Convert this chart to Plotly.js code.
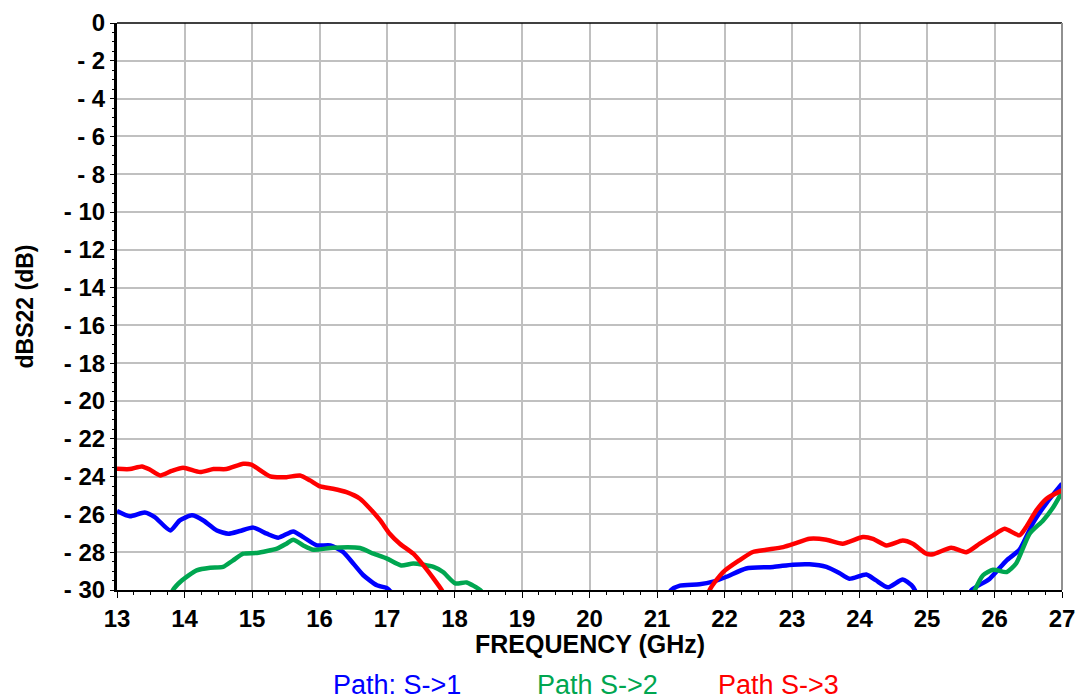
<!DOCTYPE html>
<html><head><meta charset="utf-8">
<script src="https://cdn.plot.ly/plotly-3.0.1.min.js"></script>
<style>html,body{margin:0;padding:0;background:#fff;}#chart{width:1083px;height:700px;}</style>
</head><body><div id="chart"></div>
<script>
// Path S->1 (blue)
const s1Freq = [13.0,13.19,13.41,13.56,13.79,13.93,14.11,14.28,14.48,14.65,14.82,15.02,15.22,15.39,15.61,15.76,15.96,16.16,16.35,16.5,16.65,16.85,17.0,17.04,17.12,
  null,
  21.15,21.21,21.34,21.63,21.83,22.03,22.32,22.72,23.01,23.26,23.51,23.7,23.85,24.1,24.24,24.42,24.64,24.77,24.82,24.86,
  null,
  25.6,25.66,25.93,26.18,26.37,26.57,26.77,27.0];
const s1Vals = [-25.82,-26.1,-25.9,-26.14,-26.85,-26.32,-26.05,-26.32,-26.85,-27.02,-26.88,-26.7,-27.02,-27.23,-26.9,-27.2,-27.64,-27.64,-27.99,-28.6,-29.22,-29.75,-29.9,-30.03,-30.3,
  null,
  -30.3,-30.0,-29.77,-29.7,-29.56,-29.3,-28.86,-28.78,-28.66,-28.64,-28.78,-29.1,-29.4,-29.18,-29.48,-29.86,-29.44,-29.74,-30.0,-30.4,
  null,
  -30.4,-30.0,-29.4,-28.43,-27.87,-26.46,-25.4,-24.38];

// Path S->2 (green)
const s2Freq = [13.78,13.83,13.96,14.18,14.38,14.57,14.72,14.87,15.07,15.37,15.51,15.61,15.76,15.91,16.2,16.6,16.8,17.0,17.21,17.39,17.69,17.83,18.01,18.18,18.38,18.45,
  null,
  25.66,25.71,25.83,25.98,26.18,26.32,26.52,26.72,26.87,27.0];
const s2Vals = [-30.5,-30.0,-29.5,-28.96,-28.82,-28.78,-28.43,-28.08,-28.04,-27.81,-27.55,-27.34,-27.64,-27.87,-27.76,-27.78,-28.08,-28.34,-28.7,-28.6,-28.78,-29.05,-29.65,-29.6,-30.0,-30.3,
  null,
  -30.5,-30.0,-29.22,-28.93,-29.05,-28.6,-27.02,-26.32,-25.62,-24.82];

// Path S->3 (red)
const s3Freq = [13.0,13.19,13.37,13.49,13.64,13.81,13.98,14.23,14.43,14.62,14.87,14.99,15.27,15.51,15.71,15.86,16.01,16.2,16.4,16.6,16.75,16.9,17.04,17.19,17.39,17.54,17.69,17.81,17.9,
  null,
  21.72,21.78,21.98,22.22,22.42,22.62,22.87,23.06,23.26,23.51,23.75,24.05,24.2,24.4,24.64,24.79,24.99,25.09,25.36,25.58,25.78,25.98,26.15,26.37,26.47,26.62,26.77,27.0];
const s3Vals = [-23.59,-23.6,-23.46,-23.64,-23.94,-23.7,-23.53,-23.76,-23.6,-23.6,-23.32,-23.37,-23.99,-24.03,-23.94,-24.2,-24.52,-24.64,-24.82,-25.17,-25.7,-26.32,-27.02,-27.55,-28.08,-28.7,-29.4,-30.0,-30.6,
  null,
  -31.0,-30.0,-29.05,-28.43,-27.99,-27.87,-27.73,-27.52,-27.29,-27.34,-27.55,-27.2,-27.29,-27.64,-27.38,-27.55,-28.08,-28.11,-27.76,-28.0,-27.55,-27.11,-26.76,-27.11,-26.67,-25.79,-25.17,-24.73];

const xTicks = [13,14,15,16,17,18,19,20,21,22,23,24,25,26,27];
const yTicks = [0,-2,-4,-6,-8,-10,-12,-14,-16,-18,-20,-22,-24,-26,-28,-30];
const yTickText = yTicks.map(v => v === 0 ? '0' : '- ' + Math.abs(v));
const legendNames = ['Path: S->1','Path S->2','Path S->3'];
const xTitle = 'FREQUENCY (GHz)';
const yTitle = 'dBS22 (dB)';
const colors = ['#0000ff','#00a650','#ff0000'];

const traces = [
  {x:s1Freq, y:s1Vals, name:legendNames[0], color:colors[0]},
  {x:s2Freq, y:s2Vals, name:legendNames[1], color:colors[1]},
  {x:s3Freq, y:s3Vals, name:legendNames[2], color:colors[2]}
].map(t => ({x:t.x, y:t.y, name:t.name, type:'scatter', mode:'lines', connectgaps:false,
  line:{color:t.color, width:4.5, shape:'spline', smoothing:0.6}, showlegend:false, hoverinfo:'skip'}));

const fontFam = 'Liberation Sans, Arial, sans-serif';
const layout = {
  width:1083, height:700,
  margin:{l:117, r:21, t:23, b:110},
  paper_bgcolor:'#fff', plot_bgcolor:'#fff',
  showlegend:false,
  xaxis:{
    range:[13,27], tickvals:xTicks, ticktext:xTicks.map(String),
    showgrid:true, gridcolor:'#c0c0c0', gridwidth:2,
    showline:true, linecolor:'#000', linewidth:2, mirror:false,
    ticks:'outside', ticklen:6, tickwidth:1, tickcolor:'#000',
    minor:{dtick:0.25, ticks:'outside', ticklen:3, tickcolor:'#000', showgrid:false},
    tickfont:{family:fontFam, size:24, color:'#000', weight:'bold'},
    zeroline:false, fixedrange:true
  },
  yaxis:{
    range:[-30,0], tickvals:yTicks, ticktext:yTickText,
    showgrid:true, gridcolor:'#c0c0c0', gridwidth:2,
    showline:true, linecolor:'#000', linewidth:3,
    ticks:'outside', ticklen:4, tickwidth:1, tickcolor:'#000',
    minor:{dtick:0.5, ticks:'outside', ticklen:2, tickcolor:'#000', showgrid:false},
    tickfont:{family:fontFam, size:24, color:'#000', weight:'bold'},
    title:{text:'<b>' + yTitle + '</b>', font:{family:fontFam, size:23, color:'#000'}, standoff:24},
    zeroline:false, fixedrange:true
  },
  shapes:[
    {type:'line', xref:'paper', yref:'paper', x0:0, x1:1, y0:1, y1:1, line:{color:'#000', width:1.5}},
    {type:'line', xref:'paper', yref:'paper', x0:1, x1:1, y0:0, y1:1, line:{color:'#909090', width:2}}
  ],
  annotations: [{
    text:'<b>' + xTitle + '</b>', xref:'paper', yref:'paper', x:0.5, y:-0.096, yanchor:'middle', xanchor:'center',
    showarrow:false, font:{family:fontFam, size:25, color:'#000'}
  }].concat(legendNames.map((n,i) => ({
    text:n, xref:'paper', yref:'paper', x:[0.296,0.508,0.700][i], y:-0.1675, yanchor:'middle', xanchor:'center',
    showarrow:false, font:{family:fontFam, size:27, color:colors[i]}
  })))
};
Plotly.newPlot('chart', traces, layout, {staticPlot:true, displayModeBar:false});
</script></body></html>
